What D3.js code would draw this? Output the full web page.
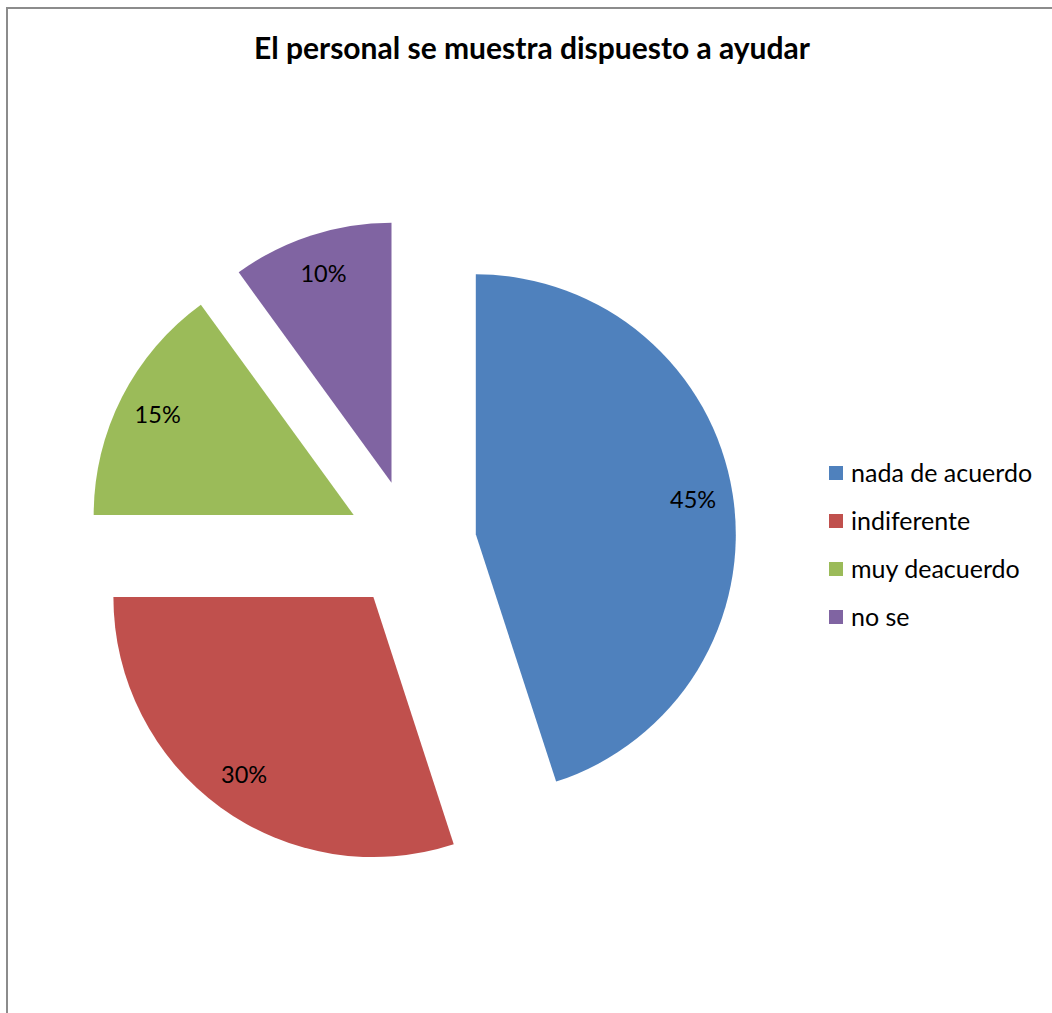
<!DOCTYPE html>
<html>
<head>
<meta charset="utf-8">
<script src="https://cdn.jsdelivr.net/npm/d3@7"></script>
<style>
  html, body { margin: 0; padding: 0; background: #ffffff; }
  svg { display: block; }
</style>
</head>
<body>
<script>
// Survey answers for "El personal se muestra dispuesto a ayudar"
const categories = ["nada de acuerdo", "indiferente", "muy deacuerdo", "no se"];
const values = [45, 30, 15, 10];
const labels = ["45%", "30%", "15%", "10%"];
const colors = ["#4F81BD", "#C0504D", "#9BBB59", "#8064A2"];
const title = "El personal se muestra dispuesto a ayudar";

const W = 1052, H = 1013;
const cx = 411.6, cy = 544.5;   // pie centre before exploding
const radius = 260;
const explode = 65;             // distance each slice is pulled out
const labelRadius = 220;

const svg = d3.select("body").append("svg")
  .attr("width", W).attr("height", H);

// chart area frame (top and left edges visible)
svg.append("path")
  .attr("d", `M7,${H} L7,8 L${W},8`)
  .attr("fill", "none")
  .attr("stroke", "#8c8c8c")
  .attr("stroke-width", 2);

svg.append("text")
  .attr("x", 532).attr("y", 59)
  .attr("text-anchor", "middle")
  .attr("font-family", "Lato, 'Open Sans', sans-serif")
  .attr("font-weight", "bold")
  .attr("font-size", 30)
  .attr("fill", "#000")
  .text(title);

const pie = d3.pie().sort(null).value(d => d);
const arcs = pie(values);
const arc = d3.arc().innerRadius(0).outerRadius(radius);

const slices = svg.append("g").selectAll("g")
  .data(arcs)
  .join("g")
  .attr("transform", d => {
    const mid = (d.startAngle + d.endAngle) / 2;
    return `translate(${cx + explode * Math.sin(mid)},${cy - explode * Math.cos(mid)})`;
  });

slices.append("path")
  .attr("d", arc)
  .attr("fill", (d, i) => colors[i]);

slices.append("text")
  .attr("x", d => labelRadius * Math.sin((d.startAngle + d.endAngle) / 2))
  .attr("y", d => -labelRadius * Math.cos((d.startAngle + d.endAngle) / 2))
  .attr("dy", "0.35em")
  .attr("text-anchor", "middle")
  .attr("font-family", "Lato, 'Open Sans', sans-serif")
  .attr("font-size", 23.5)
  .attr("fill", "#000")
  .text((d, i) => labels[i]);

// legend
const legendY = d3.scalePoint().domain(categories).range([473, 617]);
const legend = svg.append("g").selectAll("g")
  .data(categories)
  .join("g")
  .attr("transform", d => `translate(829,${legendY(d)})`);

legend.append("rect")
  .attr("x", 0).attr("y", -7)
  .attr("width", 14).attr("height", 14)
  .attr("fill", (d, i) => colors[i]);

legend.append("text")
  .attr("x", 22).attr("y", 0)
  .attr("dy", "0.35em")
  .attr("font-family", "Lato, 'Open Sans', sans-serif")
  .attr("font-size", 25)
  .attr("fill", "#000")
  .text(d => d);
</script>
</body>
</html>
